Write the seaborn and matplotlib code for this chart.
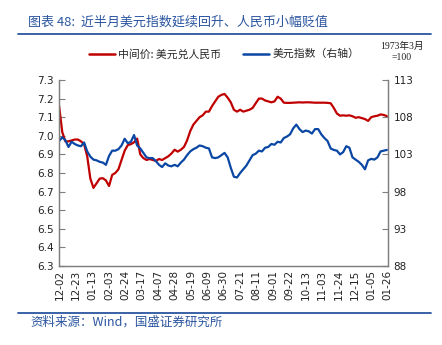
import matplotlib
matplotlib.use("Agg")
import matplotlib.pyplot as plt
from matplotlib.lines import Line2D
import seaborn as sns
import pandas as pd

# ---------------- data ----------------
cny_mid = [7.16, 7.02, 6.97, 6.97, 6.975, 6.98, 6.98, 6.97, 6.955, 6.89,
           6.77, 6.72, 6.745, 6.77, 6.772, 6.76, 6.73, 6.79, 6.80, 6.82,
           6.87, 6.92, 6.95, 6.955, 6.965, 6.985, 6.90, 6.88, 6.87, 6.875,
           6.87, 6.865, 6.875, 6.87, 6.88, 6.89, 6.905, 6.925, 6.915, 6.925,
           6.94, 6.975, 7.025, 7.06, 7.08, 7.10, 7.11, 7.13, 7.13, 7.16,
           7.185, 7.21, 7.22, 7.225, 7.205, 7.18, 7.14, 7.13, 7.14, 7.13,
           7.135, 7.14, 7.15, 7.175, 7.20, 7.20, 7.19, 7.185, 7.18, 7.185,
           7.21, 7.20, 7.178, 7.177, 7.177, 7.178, 7.179, 7.18, 7.179, 7.18,
           7.18, 7.179, 7.178, 7.178, 7.178, 7.178, 7.177, 7.175, 7.15, 7.12,
           7.108, 7.11, 7.108, 7.11, 7.105, 7.097, 7.10, 7.095, 7.09, 7.08,
           7.10, 7.105, 7.108, 7.115, 7.112, 7.106]

dxy = [104.8, 105.3, 104.9, 104.0, 104.7, 104.4, 104.2, 104.1, 104.6, 103.4,
       102.7, 102.3, 102.2, 102.0, 101.9, 101.6, 102.8, 103.5, 103.5, 103.7,
       104.2, 105.1, 104.5, 104.7, 105.6, 104.2, 103.8, 103.2, 102.6, 102.5,
       102.5, 102.1, 101.6, 101.3, 101.8, 101.5, 101.4, 101.6, 101.4, 101.9,
       102.3, 102.9, 103.4, 103.7, 103.9, 104.2, 104.1, 103.9, 103.8, 102.6,
       102.5, 102.6, 102.9, 103.2, 102.6, 101.2, 100.0, 99.9, 100.5, 101.0,
       101.5, 102.2, 102.9, 103.1, 103.5, 103.4, 103.9, 104.0, 104.4, 104.3,
       104.7, 104.6, 105.2, 105.4, 105.7, 106.5, 107.0, 106.4, 106.0, 106.2,
       106.1, 105.8, 106.4, 106.4, 105.7, 105.2, 104.8, 103.8, 103.6, 103.5,
       103.0, 103.3, 104.1, 103.9, 102.6, 102.3, 102.0, 101.6, 101.0, 102.2,
       102.4, 102.3, 102.6, 103.4, 103.5, 103.6]

dates = pd.date_range("2022-12-01", periods=len(cny_mid), freq="4D")

tick_dates = pd.date_range("2022-12-02", periods=21, freq="21D")
tick_labels = ["12-02", "12-23", "01-13", "02-03", "02-24", "03-17", "04-07",
               "04-28", "05-19", "06-09", "06-30", "07-21", "08-11", "09-01",
               "09-22", "10-13", "11-03", "11-24", "12-15", "01-05", "01-26"]

left_ticks = [6.3, 6.4, 6.5, 6.6, 6.7, 6.8, 6.9, 7.0, 7.1, 7.2, 7.3]
right_ticks = [88, 93, 98, 103, 108, 113]

series_names = ["中间价: 美元兑人民币", "美元指数（右轴）"]
title_text = "图表 48:  近半月美元指数延续回升、人民币小幅贬值"
source_text = "资料来源：Wind，国盛证券研究所"
base_note = "1973年3月\n=100"

RED = "#c00000"
BLUE = "#0a47a4"
DARKBLUE = "#2b55a0"

df = pd.DataFrame({"date": dates, "cny": cny_mid, "dxy": dxy})

# ---------------- figure ----------------
sns.set_theme(style="white")
plt.rcParams["font.family"] = ["DejaVu Sans", "Noto Sans CJK SC"]

fig = plt.figure(figsize=(4.42, 3.45), dpi=100)
ax = fig.add_axes([59 / 442, 1 - 266 / 345, (388 - 59) / 442, (266 - 80) / 345])
ax2 = ax.twinx()

sns.lineplot(data=df, x="date", y="cny", ax=ax, color=RED, linewidth=1.6, legend=False)
sns.lineplot(data=df, x="date", y="dxy", ax=ax2, color=BLUE, linewidth=1.6, legend=False)

ax.set_xlim(pd.Timestamp("2022-11-30 20:00"), pd.Timestamp("2024-01-26 12:00"))
ax.set_ylim(6.3, 7.3)
ax2.set_ylim(88, 113)

ax.set_yticks(left_ticks)
ax.set_yticklabels([f"{v:.1f}" for v in left_ticks], fontsize=7.5, color="#222222")
ax2.set_yticks(right_ticks)
ax2.set_yticklabels([str(v) for v in right_ticks], fontsize=7.5, color="#222222")

ax.set_xticks(tick_dates)
ax.set_xticklabels(tick_labels, rotation=90, fontsize=7.5, color="#222222")

ax.set_xlabel("")
ax.set_ylabel("")
ax2.set_xlabel("")
ax2.set_ylabel("")

for a in (ax, ax2):
    a.spines["top"].set_visible(False)
    for s in ("left", "right", "bottom"):
        a.spines[s].set_color("#7f7f7f")
        a.spines[s].set_linewidth(0.9)
    a.grid(False)

ax.tick_params(axis="y", direction="in", length=4, width=0.8, color="#7f7f7f", pad=4, left=True)
ax2.tick_params(axis="y", direction="in", length=4, width=0.8, color="#7f7f7f", pad=4, right=True)
ax.tick_params(axis="x", length=0, pad=3)

# legend
handles = [Line2D([0], [0], color=RED, lw=1.8), Line2D([0], [0], color=BLUE, lw=1.8)]
fig.legend(handles, series_names, loc="center", bbox_to_anchor=(0.507, 1 - 54 / 345),
           ncol=2, frameon=False, handlelength=2.4, handletextpad=0.3, columnspacing=2.0,
           prop={"family": ["Noto Sans CJK SC"], "size": 7.8})

fig.text(402 / 442, 1 - 52 / 345, base_note, ha="center", va="center", fontsize=7,
         family=["Liberation Serif", "Noto Sans CJK SC"], color="#222222", linespacing=1.3)

# title and source
fig.text(28 / 442, 1 - 22 / 345, title_text, ha="left", va="center", fontsize=9.4,
         family=["Noto Sans CJK SC"], style="italic", color=DARKBLUE)
fig.add_artist(Line2D([18 / 442, 431 / 442], [1 - 34 / 345, 1 - 34 / 345],
                      color=DARKBLUE, lw=1.3, transform=fig.transFigure))
fig.add_artist(Line2D([18 / 442, 431 / 442], [1 - 313 / 345, 1 - 313 / 345],
                      color=DARKBLUE, lw=1.3, transform=fig.transFigure))
fig.text(30 / 442, 1 - 322 / 345, source_text, ha="left", va="center", fontsize=9,
         family=["Noto Sans CJK SC"], style="italic", color=DARKBLUE)

fig.savefig("out.png", dpi=100)
